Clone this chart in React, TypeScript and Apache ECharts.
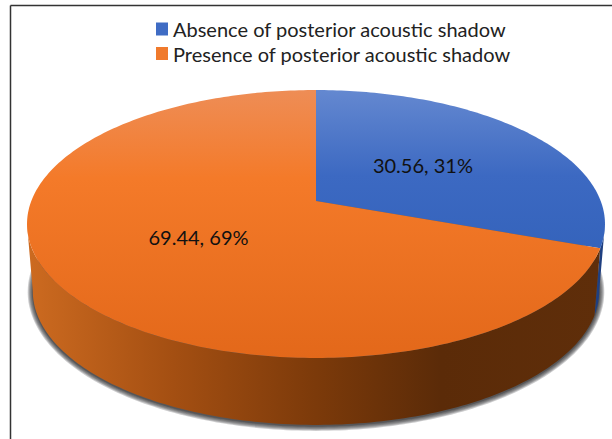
import React, { useEffect, useRef } from "react";
import * as echarts from "echarts";

const categories = ["Absence of posterior acoustic shadow", "Presence of posterior acoustic shadow"];
const values = [30.56, 69.44];
const percentLabels = [31, 69];

const FONT = "Lato";
// Tilted disc: hub position, radii on the table plane and perspective strength
const HUB_X = 316;
const HUB_Y = 201;
const RADIUS_X = 284.7;
const RADIUS_Y = 130;
const PERSPECTIVE = 0.1716;
const DEPTH = 67;
const FLOOR_SCALE = 0.98;
const LABEL_RADIUS = 0.48;
const LABEL_LIFT = 1.5;
const VISIBLE_FROM = Math.acos(-PERSPECTIVE);
const VISIBLE_TO = 2 * Math.PI - VISIBLE_FROM;
// Contact shadow: stacked translucent rings, growth in pixels per ring
const SHADOW_RINGS = [5, 4, 3, 2, 1, 0.5];

const project = (angle: number, r = 1, floor = false): number[] => {
  const u = r * Math.sin(angle);
  const v = -r * Math.cos(angle);
  const w = 1 - PERSPECTIVE * v;
  const sx = floor ? FLOOR_SCALE : 1;
  return [HUB_X + (RADIUS_X * sx * u) / w, HUB_Y + (floor ? DEPTH : 0) + (RADIUS_Y * v) / w];
};

const arcPoints = (from: number, to: number, floor = false): number[][] => {
  const steps = Math.max(2, Math.ceil(((to - from) * 180) / Math.PI));
  const points: number[][] = [];
  for (let i = 0; i <= steps; i++) points.push(project(from + ((to - from) * i) / steps, 1, floor));
  return points;
};

const linear = (x0: number, y0: number, x1: number, y1: number, stops: [number, string][]) =>
  new echarts.graphic.LinearGradient(
    x0, y0, x1, y1,
    stops.map(([offset, color]) => ({ offset, color })),
    true,
  );

const topFills = [
  () => linear(0, 90, 0, 358, [[0, "#6488d0"], [0.32, "#3c69c2"], [1, "#2a5bb2"]]),
  () => linear(0, 90, 0, 358, [[0, "#ee8d56"], [0.33, "#f47a29"], [1, "#e3681a"]]),
];
const wallFills = [
  () => "#1f3f80",
  () =>
    linear(30, 0, 600, 0, [
      [0, "#cc6a20"],
      [0.25, "#a44f12"],
      [0.5, "#7c3a0a"],
      [0.72, "#5b2b08"],
      [1, "#5f2e0a"],
    ]),
];
const legendFills = ["#3f6cc4", "#f07a2c"];

const total = values.reduce((sum, v) => sum + v, 0);
const startShare = (index: number) => values.slice(0, index).reduce((sum, v) => sum + v, 0) / total;

const sliceSeries = (index: number) => ({
  type: "custom" as const,
  name: categories[index],
  coordinateSystem: "none",
  z: 2,
  itemStyle: { color: legendFills[index] },
  data: [values[index]],
  renderItem: (_params: unknown, api: any) => {
    const value = api.value(0);
    const from = startShare(index) * 2 * Math.PI;
    const to = from + (value / total) * 2 * Math.PI;
    const children: any[] = [];

    const wallFrom = Math.max(from, VISIBLE_FROM);
    const wallTo = Math.min(to, VISIBLE_TO);
    if (wallTo > wallFrom) {
      children.push({
        type: "polygon",
        z2: 2,
        shape: { points: [...arcPoints(wallFrom, wallTo), ...arcPoints(wallFrom, wallTo, true).reverse()] },
        style: { fill: wallFills[index]() },
      });
    }
    children.push({
      type: "polygon",
      z2: 5,
      shape: { points: [project(0, 0), ...arcPoints(from, to)] },
      style: { fill: topFills[index]() },
    });
    const [labelX, labelY] = project((from + to) / 2, LABEL_RADIUS);
    children.push({
      type: "text",
      z2: 10,
      x: labelX,
      y: labelY - LABEL_LIFT,
      style: {
        text: `${value}, ${percentLabels[index]}%`,
        fill: "#111",
        font: `20px ${FONT}`,
        align: "center",
        verticalAlign: "middle",
      },
    });
    return { type: "group", children };
  },
});

const shadowSeries = {
  type: "custom" as const,
  coordinateSystem: "none",
  z: 1,
  silent: true,
  data: [total],
  renderItem: () => {
    const centerX = HUB_X;
    const centerY = HUB_Y + DEPTH + 24;
    return {
      type: "group",
      children: SHADOW_RINGS.map((grow, i) => ({
        type: "polygon",
        z2: i,
        shape: {
          points: arcPoints(0, 2 * Math.PI, true).map(([x, y]) => [
            centerX + (x - centerX) * (1 + grow / 279),
            centerY + (y - centerY) * (1 + grow / 134) + 1,
          ]),
        },
        style: { fill: "rgba(45,45,50,0.24)" },
      })),
    };
  },
};

export default function App() {
  const ref = useRef<HTMLDivElement>(null);
  useEffect(() => {
    if (!ref.current) return;
    const chart = echarts.init(ref.current, undefined, { renderer: "svg" });
    chart.setOption({
      animation: false,
      backgroundColor: "#fff",
      legend: {
        orient: "vertical",
        left: 156,
        top: 17,
        padding: 0,
        icon: "rect",
        itemWidth: 12,
        itemHeight: 13,
        itemGap: 0.5,
        selectedMode: false,
        data: categories,
        textStyle: { fontFamily: FONT, fontSize: 20, lineHeight: 24, color: "#222" },
      },
      graphic: [
        { type: "line", shape: { x1: 10.5, y1: 5.5, x2: 612, y2: 5.5 }, style: { stroke: "#333", lineWidth: 1.5 } },
        { type: "line", shape: { x1: 10.5, y1: 5.5, x2: 10.5, y2: 439 }, style: { stroke: "#333", lineWidth: 1.5 } },
      ],
      series: [shadowSeries, sliceSeries(0), sliceSeries(1)],
    });
    return () => chart.dispose();
  }, []);
  return <div ref={ref} style={{ position: "absolute", left: 0, top: 0, width: 612, height: 439 }} />;
}
